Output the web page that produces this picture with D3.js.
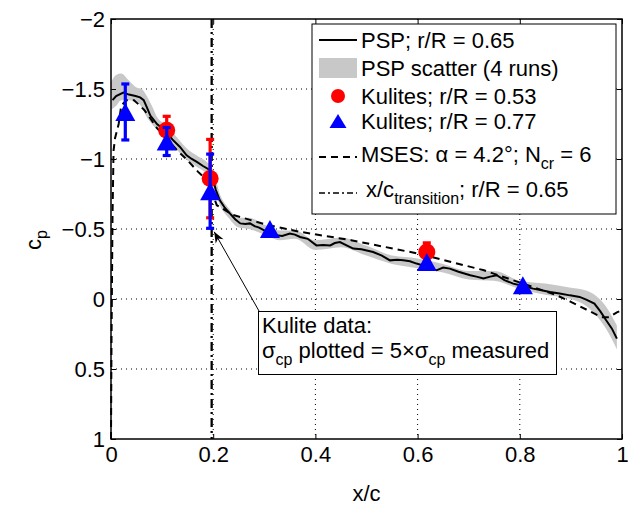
<!DOCTYPE html>
<html><head><meta charset="utf-8">
<script src="https://cdn.jsdelivr.net/npm/d3@7/dist/d3.min.js"></script>
<style>
body{margin:0;background:#fff;}
text{font-family:"Liberation Sans",Arial,Helvetica,sans-serif;}
</style></head>
<body><svg id="c" width="629" height="507"></svg>
<script>
// ---------- data ----------
const xTicks = [0, 0.2, 0.4, 0.6, 0.8, 1];
const xTickLabels = ["0", "0.2", "0.4", "0.6", "0.8", "1"];
const yTicks = [-2, -1.5, -1, -0.5, 0, 0.5, 1];
const yTickLabels = ["\u22122", "\u22121.5", "\u22121", "\u22120.5", "0", "0.5", "1"];

// PSP r/R = 0.65 : [x/c, cp]
const pspX  = [0.003,0.01,0.024,0.035,0.048,0.057,0.064,0.07,0.077,0.09,0.1,0.109,0.12,0.135,0.148,0.158,0.168,0.18,0.194,0.2,0.205,0.213,0.223,0.233,0.243,0.253,0.263,0.272,0.281,0.29,0.305,0.324,0.335,0.35,0.36,0.37,0.385,0.402,0.415,0.429,0.438,0.448,0.46,0.474,0.49,0.513,0.53,0.546,0.56,0.572,0.585,0.598,0.61,0.625,0.637,0.65,0.663,0.68,0.703,0.715,0.729,0.742,0.755,0.77,0.787,0.805,0.826,0.84,0.859,0.878,0.898,0.917,0.93,0.946,0.958,0.969,0.98,0.99];
const pspCp = [-1.42,-1.45,-1.475,-1.46,-1.45,-1.44,-1.42,-1.37,-1.31,-1.25,-1.22,-1.19,-1.14,-1.086,-1.026,-1.0,-0.98,-0.95,-0.92,-0.85,-0.78,-0.705,-0.65,-0.61,-0.57,-0.54,-0.535,-0.54,-0.52,-0.51,-0.48,-0.455,-0.45,-0.467,-0.46,-0.443,-0.43,-0.383,-0.385,-0.383,-0.4,-0.407,-0.385,-0.36,-0.355,-0.336,-0.31,-0.276,-0.28,-0.276,-0.27,-0.253,-0.24,-0.215,-0.205,-0.225,-0.217,-0.195,-0.17,-0.16,-0.146,-0.16,-0.17,-0.135,-0.11,-0.095,-0.074,-0.065,-0.05,-0.04,-0.026,-0.015,0.005,0.033,0.09,0.152,0.21,0.283];

// PSP scatter band (4 runs): x, lower-cp edge, upper-cp edge
const bandX  = [0.0,0.01,0.02,0.035,0.05,0.06,0.07,0.08,0.09,0.11,0.13,0.15,0.17,0.19,0.2,0.213,0.23,0.25,0.27,0.3,0.33,0.36,0.4,0.45,0.5,0.55,0.6,0.65,0.7,0.75,0.8,0.85,0.9,0.93,0.95,0.97,0.99];
const bandLo = [-1.35,-1.38,-1.42,-1.42,-1.41,-1.37,-1.3,-1.25,-1.21,-1.15,-1.06,-0.99,-0.94,-0.88,-0.8,-0.67,-0.58,-0.51,-0.5,-0.46,-0.42,-0.43,-0.35,-0.37,-0.31,-0.25,-0.22,-0.19,-0.14,-0.13,-0.07,-0.03,0.0,0.05,0.12,0.22,0.36];
const bandHi = [-1.55,-1.6,-1.61,-1.56,-1.51,-1.5,-1.45,-1.38,-1.3,-1.24,-1.15,-1.07,-1.02,-0.97,-0.92,-0.75,-0.65,-0.58,-0.58,-0.53,-0.49,-0.49,-0.42,-0.44,-0.38,-0.31,-0.29,-0.25,-0.2,-0.2,-0.13,-0.11,-0.08,-0.06,-0.02,0.06,0.19];

// MSES alpha = 4.2 deg, Ncr = 6
const msesX  = [0,0.001,0.003,0.005,0.008,0.015,0.02,0.03,0.045,0.057,0.065,0.077,0.09,0.11,0.13,0.15,0.17,0.19,0.207,0.239,0.272,0.305,0.37,0.47,0.6,0.73,0.83,0.87,0.9,0.93,0.96,0.975,0.99,1.0];
const msesCp = [1,0.3,-0.6,-1.06,-1.15,-1.25,-1.38,-1.42,-1.42,-1.38,-1.35,-1.29,-1.22,-1.14,-1.06,-0.99,-0.91,-0.84,-0.67,-0.6,-0.565,-0.53,-0.48,-0.42,-0.325,-0.205,-0.08,-0.03,0.02,0.075,0.13,0.13,0.095,0.08];

// Kulites r/R = 0.53 (red) : x, cp, error half-width
const kul53X   = [0.109, 0.194, 0.618];
const kul53Cp  = [-1.205, -0.86, -0.336];
const kul53Err = [0.1, 0.28, 0.065];

// Kulites r/R = 0.77 (blue)
const kul77X   = [0.028, 0.109, 0.194, 0.311, 0.618, 0.806];
const kul77Cp  = [-1.336, -1.125, -0.77, -0.5, -0.264, -0.098];
const kul77Err = [0.2, 0.1, 0.265, 0.0, 0.0, 0.0];

// transition location
const transitionX = 0.197;

const legendLabels = ["PSP; r/R = 0.65", "PSP scatter (4 runs)", "Kulites; r/R = 0.53", "Kulites; r/R = 0.77"];

// ---------- chart ----------
const svg = d3.select("#c");
const L = 111, R = 622, T = 19, B = 439;
const x = d3.scaleLinear().domain([0, 1]).range([L, R]);
const y = d3.scaleLinear().domain([-2, 1]).range([T, B]);
const FS = 22, SFS = 16;

// grid
const g = svg.append("g");
g.selectAll(".gx").data(xTicks.slice(1, -1)).join("line")
  .attr("x1", d => x(d)).attr("x2", d => x(d)).attr("y1", T).attr("y2", B)
  .attr("stroke", "#000").attr("stroke-width", 1).attr("stroke-dasharray", "1,4");
g.selectAll(".gy").data(yTicks.slice(1, -1)).join("line")
  .attr("y1", d => y(d)).attr("y2", d => y(d)).attr("x1", L).attr("x2", R)
  .attr("stroke", "#000").attr("stroke-width", 1).attr("stroke-dasharray", "1,4");

// band
const bandData = bandX.map((d, i) => [d, bandLo[i], bandHi[i]]);
svg.append("path").datum(bandData)
  .attr("d", d3.area().x(d => x(d[0])).y0(d => y(d[1])).y1(d => y(d[2])).curve(d3.curveMonotoneX))
  .attr("fill", "#c8c8c8");

// PSP line
const pspData = pspX.map((d, i) => [d, pspCp[i]]);
svg.append("path").datum(pspData)
  .attr("d", d3.line().x(d => x(d[0])).y(d => y(d[1])))
  .attr("fill", "none").attr("stroke", "#000").attr("stroke-width", 2);

// MSES line
const msesData = msesX.map((d, i) => [d, msesCp[i]]);
svg.append("path").datum(msesData)
  .attr("d", d3.line().x(d => x(d[0])).y(d => y(d[1])))
  .attr("fill", "none").attr("stroke", "#000").attr("stroke-width", 2).attr("stroke-dasharray", "7,5");

// transition line
svg.append("line")
  .attr("x1", x(transitionX)).attr("x2", x(transitionX)).attr("y1", T).attr("y2", B)
  .attr("stroke", "#000").attr("stroke-width", 2.3).attr("stroke-dasharray", "9,4,2,4");

// error bars + markers
function errBars(xs, cps, errs, color) {
  const data = xs.map((d, i) => [d, cps[i], errs[i]]).filter(d => d[2] > 0);
  const eg = svg.append("g").attr("stroke", color).attr("stroke-width", 3.2);
  eg.selectAll(".v").data(data).join("line")
    .attr("x1", d => x(d[0])).attr("x2", d => x(d[0]))
    .attr("y1", d => y(d[1] - d[2])).attr("y2", d => y(d[1] + d[2]));
  eg.selectAll(".t").data(data).join("line")
    .attr("x1", d => x(d[0]) - 4).attr("x2", d => x(d[0]) + 4)
    .attr("y1", d => y(d[1] - d[2])).attr("y2", d => y(d[1] - d[2]));
  eg.selectAll(".b").data(data).join("line")
    .attr("x1", d => x(d[0]) - 4).attr("x2", d => x(d[0]) + 4)
    .attr("y1", d => y(d[1] + d[2])).attr("y2", d => y(d[1] + d[2]));
}
const triPath = (w, h) => `M0,${-h / 2}L${w / 2},${h / 2}L${-w / 2},${h / 2}Z`;

errBars(kul53X, kul53Cp, kul53Err, "#ff0000");
svg.append("g").selectAll("circle").data(kul53X.map((d, i) => [d, kul53Cp[i]])).join("circle")
  .attr("cx", d => x(d[0])).attr("cy", d => y(d[1])).attr("r", 8.5).attr("fill", "#ff0000");

errBars(kul77X, kul77Cp, kul77Err, "#0000ff");
svg.append("g").selectAll("path").data(kul77X.map((d, i) => [d, kul77Cp[i]])).join("path")
  .attr("transform", d => `translate(${x(d[0])},${y(d[1])})`)
  .attr("d", triPath(20, 18)).attr("fill", "#0000ff");

// axes box
svg.append("rect").attr("x", L).attr("y", T).attr("width", R - L).attr("height", B - T)
  .attr("fill", "none").attr("stroke", "#000").attr("stroke-width", 1.5);

const fmtY = d => yTickLabels[yTicks.indexOf(d)];
const fmtX = d => xTickLabels[xTicks.indexOf(d)];
const ax = [
  svg.append("g").attr("transform", `translate(${L},0)`).call(d3.axisLeft(y).tickValues(yTicks).tickFormat(fmtY).tickSizeInner(-5).tickSizeOuter(0).tickPadding(6)),
  svg.append("g").attr("transform", `translate(${R},0)`).call(d3.axisRight(y).tickValues(yTicks).tickFormat("").tickSizeInner(-5).tickSizeOuter(0)),
  svg.append("g").attr("transform", `translate(0,${B})`).call(d3.axisBottom(x).tickValues(xTicks).tickFormat(fmtX).tickSizeInner(-5).tickSizeOuter(0).tickPadding(7)),
  svg.append("g").attr("transform", `translate(0,${T})`).call(d3.axisTop(x).tickValues(xTicks).tickFormat("").tickSizeInner(-5).tickSizeOuter(0))
];
ax.forEach(a => {
  a.select(".domain").remove();
  a.selectAll("line").attr("stroke", "#000");
  a.selectAll("text").attr("font-size", FS).attr("fill", "#000")
    .attr("font-family", '"Liberation Sans",Arial,Helvetica,sans-serif');
});

// axis labels
svg.append("text").attr("x", (L + R) / 2).attr("y", 501).attr("text-anchor", "middle")
  .attr("font-size", FS).text("x/c");
const yl = svg.append("text").attr("transform", "translate(41,240) rotate(-90)")
  .attr("text-anchor", "middle").attr("font-size", FS);
yl.append("tspan").text("c");
yl.append("tspan").attr("font-size", SFS).attr("dy", 6).text("p");

// legend
const lg = svg.append("g");
lg.append("rect").attr("x", 312).attr("y", 24).attr("width", 304).attr("height", 190)
  .attr("fill", "#fff").attr("stroke", "#000").attr("stroke-width", 1);
const tx = 361;
lg.append("line").attr("x1", 319).attr("x2", 357).attr("y1", 40).attr("y2", 40).attr("stroke", "#000").attr("stroke-width", 2);
lg.append("text").attr("x", tx).attr("y", 48).attr("font-size", FS).text(legendLabels[0]);
lg.append("rect").attr("x", 319).attr("y", 58).attr("width", 38).attr("height", 20).attr("fill", "#c8c8c8");
lg.append("text").attr("x", tx).attr("y", 76).attr("font-size", FS).text(legendLabels[1]);
lg.append("circle").attr("cx", 338).attr("cy", 96).attr("r", 7).attr("fill", "#ff0000");
lg.append("text").attr("x", tx).attr("y", 104).attr("font-size", FS).text(legendLabels[2]);
lg.append("path").attr("transform", "translate(338,121)").attr("d", triPath(17, 14)).attr("fill", "#0000ff");
lg.append("text").attr("x", tx).attr("y", 129).attr("font-size", FS).text(legendLabels[3]);
lg.append("line").attr("x1", 319).attr("x2", 357).attr("y1", 157).attr("y2", 157).attr("stroke", "#000").attr("stroke-width", 2).attr("stroke-dasharray", "7,5");
const t5 = lg.append("text").attr("x", tx).attr("y", 162).attr("font-size", FS);
t5.append("tspan").text("MSES: \u03b1 = 4.2\u00b0; N");
t5.append("tspan").attr("font-size", SFS).attr("dy", 7).text("cr");
t5.append("tspan").attr("dy", -7).text(" = 6");
lg.append("line").attr("x1", 319).attr("x2", 357).attr("y1", 193).attr("y2", 193).attr("stroke", "#000").attr("stroke-width", 1.5).attr("stroke-dasharray", "6,3,2,3");
const t6 = lg.append("text").attr("x", 366).attr("y", 197).attr("font-size", FS);
t6.append("tspan").text("x/c");
t6.append("tspan").attr("font-size", SFS).attr("dy", 7).text("transition");
t6.append("tspan").attr("dy", -7).text("; r/R = 0.65");

// annotation
const an = svg.append("g");
an.append("line").attr("x1", 259).attr("y1", 311).attr("x2", x(0.2) + 1).attr("y2", y(-0.48))
  .attr("stroke", "#000").attr("stroke-width", 1);
{
  const x0 = x(0.2) + 1, y0 = y(-0.48);
  const ang = Math.atan2(311 - y0, 259 - x0);
  const len = 11, wid = 4.5;
  const p = (a, l) => [x0 + Math.cos(a) * l, y0 + Math.sin(a) * l];
  const bx = p(ang, len), nx = -Math.sin(ang), ny = Math.cos(ang);
  const back = p(ang, len * 0.7);
  an.append("path").attr("d", `M${x0},${y0}L${bx[0] + nx * wid},${bx[1] + ny * wid}L${back[0]},${back[1]}L${bx[0] - nx * wid},${bx[1] - ny * wid}Z`).attr("fill", "#000");
}
an.append("rect").attr("x", 258.5).attr("y", 311.5).attr("width", 298).attr("height", 63)
  .attr("fill", "#fff").attr("stroke", "#000").attr("stroke-width", 1);
an.append("text").attr("x", 262).attr("y", 333).attr("font-size", FS).text("Kulite data:");
const a2 = an.append("text").attr("x", 262).attr("y", 358).attr("font-size", FS);
a2.append("tspan").text("\u03c3");
a2.append("tspan").attr("font-size", SFS).attr("dy", 7).text("cp");
a2.append("tspan").attr("dy", -7).text(" plotted = 5\u00d7\u03c3");
a2.append("tspan").attr("font-size", SFS).attr("dy", 7).text("cp");
a2.append("tspan").attr("dy", -7).text(" measured");
</script></body></html>
